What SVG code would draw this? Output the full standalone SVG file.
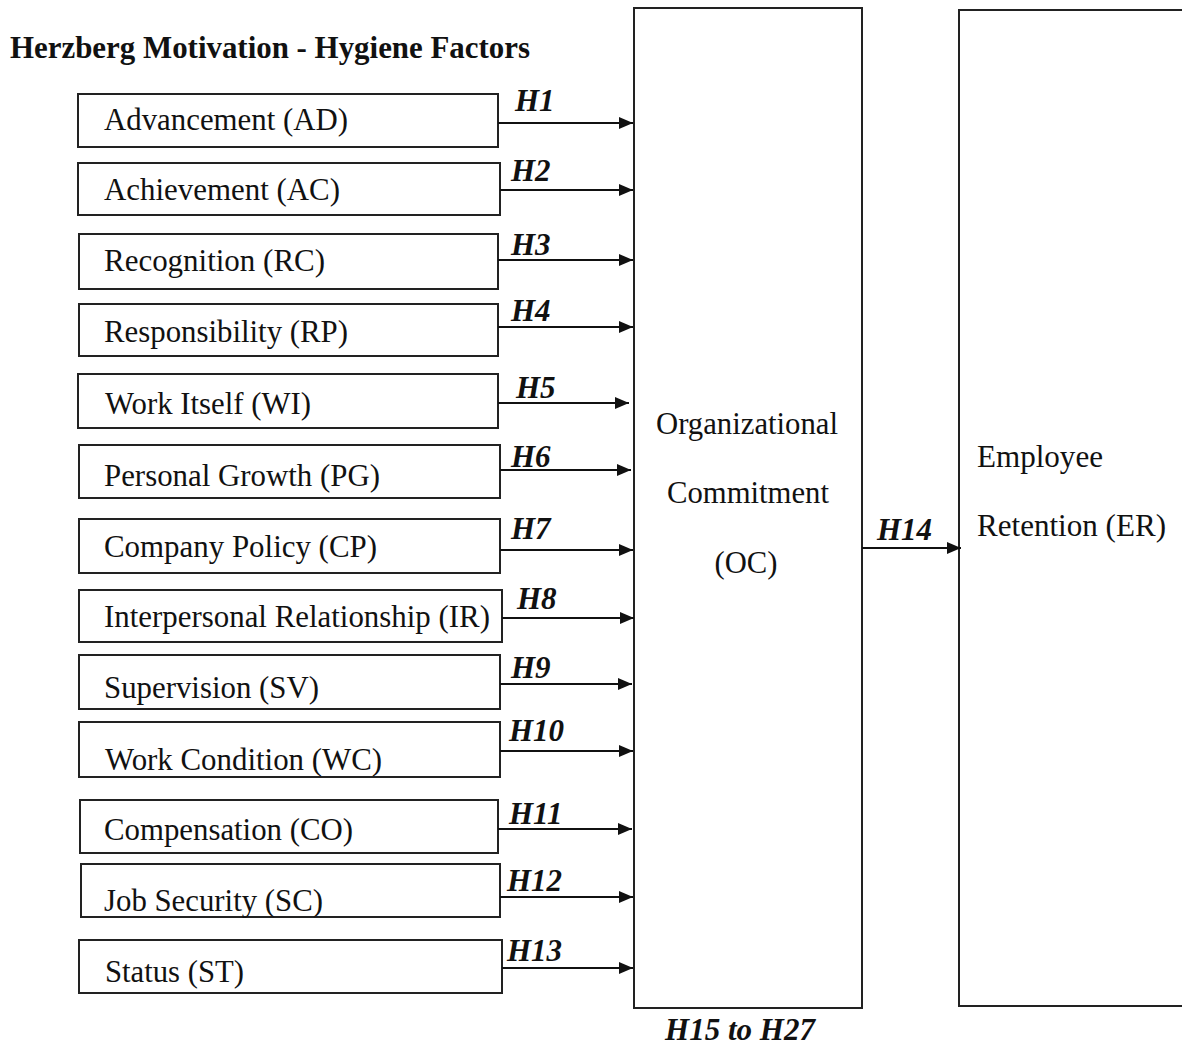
<svg xmlns="http://www.w3.org/2000/svg" width="1182" height="1050" viewBox="0 0 1182 1050">
<style>
.box{fill:#fff;stroke:#222;stroke-width:2}
.t{font-family:"Liberation Serif","Times New Roman",serif;font-size:31px;fill:#111}
.h{font-family:"Liberation Serif","Times New Roman",serif;font-size:31px;font-weight:bold;font-style:italic;fill:#111}
.title{font-family:"Liberation Serif","Times New Roman",serif;font-size:31px;font-weight:bold;fill:#111}
.c{stroke:#111;stroke-width:2;fill:none;marker-end:url(#ah)}
</style>
<defs>
<marker id="ah" viewBox="0 0 14 12" refX="14" refY="6" markerWidth="14" markerHeight="12" markerUnits="userSpaceOnUse" orient="auto">
<path d="M0,0 L14,6 L0,12 Z" fill="#111"/>
</marker>
</defs>
<rect width="1182" height="1050" fill="#fff"/>
<text class="title" x="10" y="58" textLength="520" lengthAdjust="spacingAndGlyphs">Herzberg Motivation - Hygiene Factors</text>

<g id="n-ad"><rect class="box" x="78" y="94" width="420" height="53"/><text class="t" x="104" y="130" textLength="244" lengthAdjust="spacingAndGlyphs">Advancement (AD)</text></g>
<g id="n-ac"><rect class="box" x="78" y="163" width="422" height="52"/><text class="t" x="104" y="200" textLength="236" lengthAdjust="spacingAndGlyphs">Achievement (AC)</text></g>
<g id="n-rc"><rect class="box" x="79" y="234" width="419" height="55"/><text class="t" x="104" y="271" textLength="221" lengthAdjust="spacingAndGlyphs">Recognition (RC)</text></g>
<g id="n-rp"><rect class="box" x="79" y="304" width="419" height="52"/><text class="t" x="104" y="342" textLength="244" lengthAdjust="spacingAndGlyphs">Responsibility (RP)</text></g>
<g id="n-wi"><rect class="box" x="78" y="374" width="420" height="54"/><text class="t" x="105" y="414" textLength="206" lengthAdjust="spacingAndGlyphs">Work Itself (WI)</text></g>
<g id="n-pg"><rect class="box" x="79" y="445" width="421" height="53"/><text class="t" x="104" y="486" textLength="276" lengthAdjust="spacingAndGlyphs">Personal Growth (PG)</text></g>
<g id="n-cp"><rect class="box" x="79" y="519" width="421" height="54"/><text class="t" x="104" y="557" textLength="273" lengthAdjust="spacingAndGlyphs">Company Policy (CP)</text></g>
<g id="n-ir"><rect class="box" x="79" y="590" width="423" height="52"/><text class="t" x="104" y="627" textLength="386" lengthAdjust="spacingAndGlyphs">Interpersonal Relationship (IR)</text></g>
<g id="n-sv"><rect class="box" x="79" y="655" width="421" height="54"/><text class="t" x="104" y="698" textLength="215" lengthAdjust="spacingAndGlyphs">Supervision (SV)</text></g>
<g id="n-wc"><rect class="box" x="79" y="722" width="421" height="55"/><text class="t" x="105" y="770" textLength="277" lengthAdjust="spacingAndGlyphs">Work Condition (WC)</text></g>
<g id="n-co"><rect class="box" x="80" y="800" width="418" height="53"/><text class="t" x="104" y="840" textLength="249" lengthAdjust="spacingAndGlyphs">Compensation (CO)</text></g>
<g id="n-sc"><rect class="box" x="81" y="864" width="419" height="53"/><text class="t" x="104" y="911" textLength="219" lengthAdjust="spacingAndGlyphs">Job Security (SC)</text></g>
<g id="n-st"><rect class="box" x="79" y="940" width="423" height="53"/><text class="t" x="105" y="982" textLength="139" lengthAdjust="spacingAndGlyphs">Status (ST)</text></g>

<g id="n-oc"><rect class="box" x="634" y="8" width="228" height="1000"/>
<text class="t" x="747" y="434" text-anchor="middle" textLength="182" lengthAdjust="spacingAndGlyphs">Organizational</text>
<text class="t" x="748" y="503" text-anchor="middle" textLength="162" lengthAdjust="spacingAndGlyphs">Commitment</text>
<text class="t" x="746" y="573" text-anchor="middle" textLength="63" lengthAdjust="spacingAndGlyphs">(OC)</text></g>

<g id="n-er"><rect class="box" x="959" y="10" width="240" height="996"/>
<text class="t" x="977" y="467" textLength="126" lengthAdjust="spacingAndGlyphs">Employee</text>
<text class="t" x="977" y="536" textLength="189" lengthAdjust="spacingAndGlyphs">Retention (ER)</text></g>

<g id="connectors">
<line class="c" x1="498" y1="123" x2="633" y2="123"/>
<line class="c" x1="500" y1="190" x2="633" y2="190"/>
<line class="c" x1="498" y1="260" x2="633" y2="260"/>
<line class="c" x1="498" y1="327" x2="633" y2="327"/>
<line class="c" x1="498" y1="403" x2="629" y2="403"/>
<line class="c" x1="500" y1="470" x2="631" y2="470"/>
<line class="c" x1="500" y1="550" x2="633" y2="550"/>
<line class="c" x1="502" y1="618" x2="634" y2="618"/>
<line class="c" x1="500" y1="684" x2="632" y2="684"/>
<line class="c" x1="500" y1="751" x2="633" y2="751"/>
<line class="c" x1="498" y1="829" x2="632" y2="829"/>
<line class="c" x1="500" y1="897" x2="633" y2="897"/>
<line class="c" x1="502" y1="968" x2="633" y2="968"/>
<line class="c" x1="862" y1="548" x2="961" y2="548"/>
</g>

<g id="labels">
<text class="h" x="515" y="111">H1</text>
<text class="h" x="511" y="181">H2</text>
<text class="h" x="511" y="255">H3</text>
<text class="h" x="511" y="321">H4</text>
<text class="h" x="516" y="398">H5</text>
<text class="h" x="511" y="467">H6</text>
<text class="h" x="511" y="539">H7</text>
<text class="h" x="517" y="609">H8</text>
<text class="h" x="511" y="678">H9</text>
<text class="h" x="509" y="741">H10</text>
<text class="h" x="509" y="824">H11</text>
<text class="h" x="507" y="891">H12</text>
<text class="h" x="507" y="961">H13</text>
<text class="h" x="877" y="540">H14</text>
<text class="h" x="740" y="1040" text-anchor="middle" font-size="30">H15 to H27</text>
</g>
</svg>
